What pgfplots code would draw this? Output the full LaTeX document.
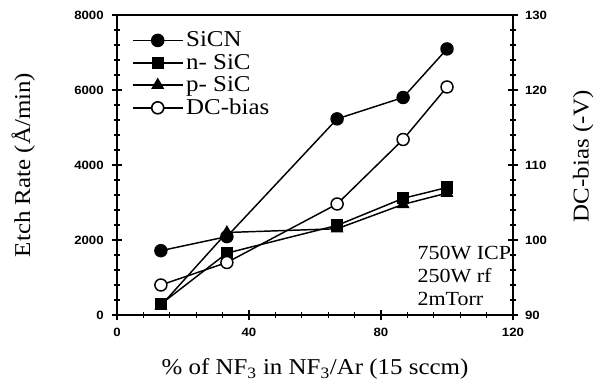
\documentclass[border=0pt]{standalone}
\usepackage{pgfplots}
\pgfplotsset{compat=1.18}
\usepackage{fontspec}
\setmainfont{Liberation Serif}[FakeStretch=1.1]
\setsansfont{Liberation Sans}[FakeStretch=1.1]
\begin{document}
\begin{tikzpicture}
\pgfplotsset{
  every axis/.append style={
    scale only axis, width=297pt, height=225pt,
    xmin=0, xmax=120,
    axis line style={line width=1.2pt},
    tick style={line width=1pt, black},
    tick align=center,
    major tick length=7pt, minor tick length=4pt,
    ticklabel style={font=\fontsize{9}{9}\selectfont\sffamily\bfseries},
    /pgf/number format/assume math mode=true,
    /pgf/number format/set thousands separator={},
    label style={font=\fontsize{17}{18}\selectfont\rmfamily},
  },
}
\begin{axis}[
  name=ax,
  ymin=0, ymax=8000,
  xtick={0,40,80,120}, minor x tick num=4,
  ytick={0,2000,4000,6000,8000}, minor y tick num=4,
  xtick pos=bottom, ytick pos=left,
  xticklabel style={yshift=-3pt},
  yticklabel style={xshift=-3pt},
  xlabel={\% of NF\textsubscript{3} in NF\textsubscript{3}/Ar (15 sccm)},
  xlabel style={at={(axis description cs:0.5,-0.2)}, anchor=base},
  ylabel={Etch Rate (Å/min)},
  ylabel style={at={(axis description cs:-0.237,0.5)}, anchor=center, rotate=0},
  every axis plot/.append style={line width=1.1pt, black},
  legend style={draw=none, fill=none, at={(axis description cs:0,1)}, anchor=north west,
    xshift=8pt, yshift=-8.5pt, font=\fontsize{17}{18}\selectfont\rmfamily, row sep=0pt,
    /tikz/every even column/.append style={column sep=0pt}},
  legend cell align=left,
  legend image code/.code={\draw[mark repeat=2,mark phase=2,#1,line width=1.2pt] plot coordinates {(0pt,0pt) (18.75pt,0pt) (37.5pt,0pt)};},
]
\addplot[mark=*, mark size=4.5pt] coordinates {
  (13.3,1715) (33.3,2090) (66.7,5230) (86.7,5800) (100,7095)};
\addlegendentry{SiCN}
\addplot[mark=square*, mark size=4pt] coordinates {
  (13.3,290) (33.3,1650) (66.7,2390) (86.7,3110) (100,3400)};
\addlegendentry{n- SiC}
\addplot[mark=triangle*, mark size=4.5pt] coordinates {
  (13.3,250) (33.3,2200) (66.7,2300) (86.7,2950) (100,3250)};
\addlegendentry{p- SiC}
\addlegendimage{black, mark=*, mark options={fill=white}, mark size=4.5pt}
\addlegendentry{DC-bias}
\node[anchor=west, align=left, font=\fontsize{15}{17}\selectfont\rmfamily, inner sep=0pt]
  at (axis cs:91,1040) {750W ICP\\250W rf\\2mTorr};
\end{axis}
\begin{axis}[
  ymin=90, ymax=130,
  axis x line=none, axis y line*=right,
  ytick={90,100,110,120,130}, minor y tick num=4,
  yticklabel style={xshift=2pt},
  ylabel={DC-bias (-V)},
  ylabel style={at={(axis description cs:1.177,0.53)}, anchor=center},
]
\addplot[line width=1.1pt, black, mark=*, mark options={fill=white}, mark size=4.5pt] coordinates {
  (13.3,94.0) (33.3,97.0) (66.7,104.8) (86.7,113.4) (100,120.4)};
\end{axis}
\pgfresetboundingbox
\path[use as bounding box] ([xshift=-87.75pt,yshift=-57.75pt]ax.south west) rectangle ([xshift=65.25pt,yshift=11.25pt]ax.north east);
\end{tikzpicture}
\end{document}
